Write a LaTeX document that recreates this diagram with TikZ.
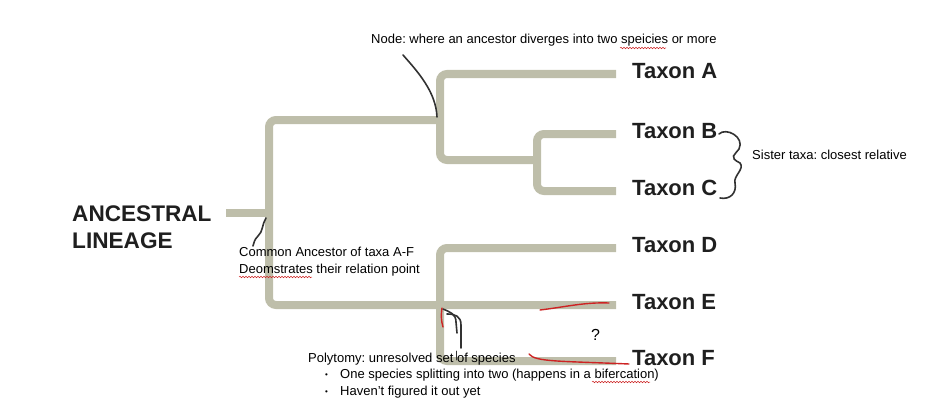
\documentclass[tikz,border=0pt]{standalone}
\usepackage{fontspec}
\setmainfont{Liberation Sans}
\frenchspacing
\usetikzlibrary{decorations.pathmorphing}
\definecolor{branchcol}{RGB}{190,190,170}
\definecolor{inkcol}{RGB}{50,50,50}
\definecolor{redink}{RGB}{205,35,35}
\tikzset{
  branch/.style={draw=branchcol, line width=8pt, rounded corners=7pt},
  taxon/.style={anchor=base west, inner sep=0pt, font=\fontsize{22}{26}\selectfont\bfseries, text=black!88},
  note/.style={anchor=base west, inner sep=0pt, font=\fontsize{13}{17}\selectfont, text=black},
  ink/.style={draw=inkcol, line width=1.6pt, line cap=round},
  redmark/.style={draw=redink, line width=1.4pt, line cap=round},
  spell/.style={draw=redink, line width=0.5pt, decorate, decoration={snake, amplitude=0.8pt, segment length=3pt}}
}
\begin{document}
\begin{tikzpicture}[x=1pt, y=-1pt]
\useasboundingbox (0,0) rectangle (926,420);
% coordinates of the tree
\coordinate (root) at (226,213);
\coordinate (r0) at (269,213);
\coordinate (top1) at (269,120);
\coordinate (bot1) at (269,305);
\coordinate (nAB) at (440,120);
\coordinate (nBC) at (537,160);
\coordinate (nDF) at (440,305);
\coordinate (eA) at (616,74);
\coordinate (eB) at (616,134);
\coordinate (eC) at (616,191);
\coordinate (eD) at (616,248);
\coordinate (eE) at (616,305);
\coordinate (eF) at (616,361);
% branches
\draw[branch] (root) -- (r0);
\draw[branch] (nAB) -- (top1) -- (bot1) -- (eE);
\draw[branch] (eA) -- (440,74) -- (440,160) -- (nBC);
\draw[branch] (eB) -- (537,134) -- (537,191) -- (eC);
\draw[branch] (eD) -- (440,248) -- (440,361) -- (eF);
% labels
\node[taxon] (tA) at (632,78) {Taxon A};
\node[taxon] (tB) at (632,138) {Taxon B};
\node[taxon] (tC) at (632,195) {Taxon C};
\node[taxon] (tD) at (632,252) {Taxon D};
\node[taxon] (tE) at (632,309) {Taxon E};
\node[taxon] (tF) at (632,365) {Taxon F};
\node[taxon, align=left, anchor=north west, font=\fontsize{22.6}{27}\selectfont\bfseries] (anc) at (72,206) {ANCESTRAL\\LINEAGE};
% notes
\node[note] (nodetxt) at (371,44) {Node: where an ancestor diverges into two speicies or more};
\node[note] (sister) at (752,159) {Sister taxa: closest relative};
\node[note] (common1) at (239,256) {Common Ancestor of taxa A-F};
\node[note] (common2) at (239,273) {Deomstrates their relation point};
\node[note] (poly) at (308,362) {Polytomy: unresolved set of species};
\node[note, font=\fontsize{8}{8}\selectfont] (b1dot) at (325,377) {•};
\node[note] (b1) at (340,378) {One species splitting into two (happens in a bifercation)};
\node[note, font=\fontsize{8}{8}\selectfont] (b2dot) at (325,394) {•};
\node[note] (b2) at (340,395) {Haven't figured it out yet};
\node[note, font=\fontsize{16}{18}\selectfont] (q) at (591,340) {?};
% spelling underlines
\draw[spell] (620,48) -- (666,48);
\draw[spell] (239,277) -- (312,277);
\draw[spell] (592,382) -- (650,382);
% hand-drawn ink
\coordinate (inkA) at (403,55);
\coordinate (inkB) at (437,117);
\draw[ink] (inkA) .. controls (418,72) and (436,92) .. (inkB);
\coordinate (ca1) at (266,218);
\coordinate (ca2) at (253,246);
\draw[ink] (ca1) .. controls (262,224) and (263,232) .. (258,236) .. controls (254,240) and (254,243) .. (ca2);
\coordinate (p0) at (443,309);
\draw[ink] (p0) .. controls (450,312) and (456,314) .. (456,322) -- (457,333);
\draw[ink] (447,314) .. controls (455,314) and (461,316) .. (461,325) -- (461,348);
\draw[ink, line width=0.8pt] (456,351) -- (456,360);
\coordinate (brA) at (719,134);
\coordinate (brB) at (720,198);
\draw[ink] (brA) .. controls (726,127) and (745,137) .. (739,149) .. controls (735,155) and (728,157) .. (740,163) .. controls (745,169) and (733,176) .. (735,183) .. controls (737,193) and (730,200) .. (brB);
% red marks
\draw[redmark] (442,308) .. controls (441,315) and (441,320) .. (443,327);
\draw[redmark] (540,310) .. controls (565,307) and (585,302) .. (609,303);
\draw[redmark] (529,354) .. controls (535,362) and (560,361) .. (629,364);
\end{tikzpicture}
\end{document}
